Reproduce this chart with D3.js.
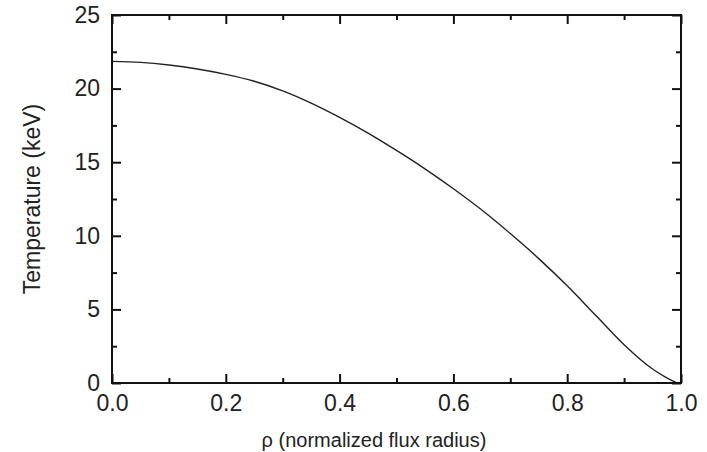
<!DOCTYPE html>
<html>
<head>
<meta charset="utf-8">
<script src="https://cdn.jsdelivr.net/npm/d3@7"></script>
<style>
  html, body { margin: 0; padding: 0; background: #fff; }
  svg { display: block; }
  text { font-family: "Liberation Sans", Arial, sans-serif; fill: #222; }
</style>
</head>
<body>
<svg id="chart" width="707" height="452"></svg>
<script>
// Data
const rho = [0, 0.05, 0.1, 0.15, 0.2, 0.25, 0.3, 0.35, 0.4, 0.45, 0.5, 0.55, 0.6, 0.65, 0.7, 0.75, 0.8, 0.85, 0.9, 0.95, 0.975, 0.993];
const temperature = [21.85, 21.78, 21.6, 21.33, 20.97, 20.5, 19.85, 19.02, 18.05, 16.98, 15.8, 14.55, 13.2, 11.75, 10.15, 8.45, 6.6, 4.6, 2.6, 0.95, 0.35, 0.0];
const xTicks = [0, 0.2, 0.4, 0.6, 0.8, 1.0];
const xMinorTicks = [0.1, 0.3, 0.5, 0.7, 0.9];
const yTicks = [0, 5, 10, 15, 20, 25];
const yMinorTicks = [2.5, 7.5, 12.5, 17.5, 22.5];
const xTitle = "\u03C1 (normalized flux radius)";
const yTitle = "Temperature (keV)";

const L = 112, R = 681, T = 15, B = 383;
const svg = d3.select("#chart");
const x = d3.scaleLinear().domain([0, 1]).range([L, R]);
const y = d3.scaleLinear().domain([0, 25]).range([B, T]);

const major = 9, minor = 5;

// Curve
const line = d3.line().x((d, i) => x(rho[i])).y(d => y(d)).curve(d3.curveMonotoneX);
svg.append("path").datum(temperature)
  .attr("d", line)
  .attr("fill", "none")
  .attr("stroke", "#222")
  .attr("stroke-width", 1.4);

// Axes with inward ticks
function axisGroup(axisFn, transform) {
  const g = svg.append("g").attr("transform", transform).call(axisFn);
  g.select(".domain").remove();
  g.selectAll("line").attr("stroke", "#111").attr("stroke-width", 2);
  return g;
}
// bottom
const gb = axisGroup(d3.axisBottom(x).tickValues(xTicks).tickSizeInner(-major).tickSizeOuter(0).tickFormat(d3.format(".1f")), `translate(0,${B})`);
gb.selectAll("text").attr("y", 12).attr("dy", "0.71em").style("font-size", "23px");
axisGroup(d3.axisBottom(x).tickValues(xMinorTicks).tickSizeInner(-minor).tickSizeOuter(0).tickFormat(""), `translate(0,${B})`);
// top
axisGroup(d3.axisTop(x).tickValues(xTicks).tickSizeInner(-major).tickSizeOuter(0).tickFormat(""), `translate(0,${T})`);
axisGroup(d3.axisTop(x).tickValues(xMinorTicks).tickSizeInner(-minor).tickSizeOuter(0).tickFormat(""), `translate(0,${T})`);
// left
const gl = axisGroup(d3.axisLeft(y).tickValues(yTicks).tickSizeInner(-major).tickSizeOuter(0).tickFormat(d3.format("d")), `translate(${L},0)`);
gl.selectAll("text").attr("x", -12).style("font-size", "23px");
axisGroup(d3.axisLeft(y).tickValues(yMinorTicks).tickSizeInner(-minor).tickSizeOuter(0).tickFormat(""), `translate(${L},0)`);
// right
axisGroup(d3.axisRight(y).tickValues(yTicks).tickSizeInner(-major).tickSizeOuter(0).tickFormat(""), `translate(${R},0)`);
axisGroup(d3.axisRight(y).tickValues(yMinorTicks).tickSizeInner(-minor).tickSizeOuter(0).tickFormat(""), `translate(${R},0)`);

// Frame
svg.append("rect")
  .attr("x", L).attr("y", T).attr("width", R - L).attr("height", B - T)
  .attr("fill", "none").attr("stroke", "#111").attr("stroke-width", 2);

// Titles
svg.append("text")
  .attr("x", 374).attr("y", 447)
  .attr("text-anchor", "middle")
  .style("font-size", "20px")
  .text(xTitle);
svg.append("text")
  .attr("transform", `translate(40,${(T + B) / 2}) rotate(-90)`)
  .attr("text-anchor", "middle")
  .style("font-size", "23px")
  .text(yTitle);
</script>
</body>
</html>
